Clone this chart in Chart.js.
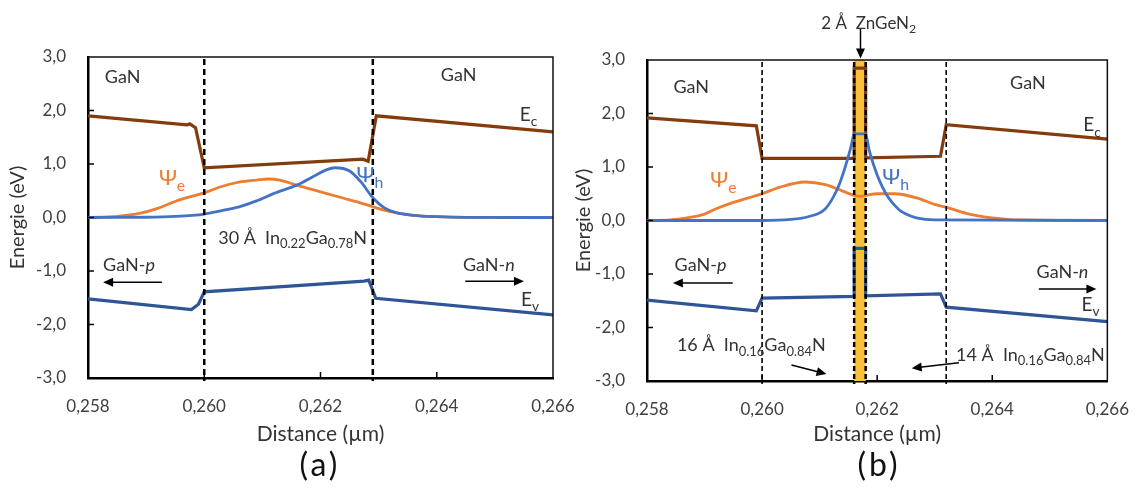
<!DOCTYPE html>
<html>
<head>
<meta charset="utf-8">
<script src="https://cdn.jsdelivr.net/npm/chart.js@4.4.1/dist/chart.umd.min.js"></script>
<style>
  body { margin: 0; background: #fff; width: 1139px; height: 488px; position: relative; overflow: hidden; font-family: Lato, "Open Sans", sans-serif; }
  #chartA { position: absolute; left: 0; top: 0; }
  #chartB { position: absolute; left: 570px; top: 0; }
  .panel { position: absolute; top: 445px; width: 100px; text-align: center; font-size: 32px; line-height: 38px; letter-spacing: 3px; color: #111; }
</style>
</head>
<body>
<canvas id="chartA" width="600" height="450"></canvas>
<canvas id="chartB" width="569" height="450"></canvas>
<div class="panel" style="left:270px">(a)</div>
<div class="panel" style="left:829px">(b)</div>
<script>
const fam = 'Lato, "Open Sans", "DejaVu Sans", sans-serif';

// axes
const xTickValues = [0.258, 0.260, 0.262, 0.264, 0.266];
const xTickLabels = ['0,258', '0,260', '0,262', '0,264', '0,266'];
const yTickValues = [-3, -2, -1, 0, 1, 2, 3];
const yTickLabels = ['-3,0', '-2,0', '-1,0', '0,0', '1,0', '2,0', '3,0'];

// (a) 30 A In0.22Ga0.78N
const ecAx = [0.258, 0.2597, 0.25975, 0.25985, 0.2600, 0.26273, 0.26282, 0.26296, 0.266];
const ecAy = [1.90, 1.73, 1.75, 1.68, 0.93, 1.09, 1.05, 1.90, 1.60];
const evAx = [0.258, 0.25978, 0.2599, 0.2600, 0.26275, 0.26283, 0.26295, 0.266];
const evAy = [-1.52, -1.72, -1.62, -1.39, -1.19, -1.17, -1.51, -1.82];
const psiEAx = [0.258, 0.2582, 0.2585, 0.2589, 0.2592, 0.2595, 0.2598, 0.2600, 0.2603, 0.2606, 0.2609, 0.2611, 0.2613, 0.2616, 0.2620, 0.2624, 0.2627, 0.2629, 0.2632, 0.2636, 0.2640, 0.2645, 0.266];
const psiEAy = [0, 0.005, 0.02, 0.08, 0.17, 0.30, 0.40, 0.46, 0.58, 0.66, 0.70, 0.72, 0.70, 0.60, 0.48, 0.36, 0.27, 0.20, 0.11, 0.04, 0.015, 0.003, 0];
const psiHAx = [0.258, 0.259, 0.2595, 0.2600, 0.2603, 0.2606, 0.2609, 0.2612, 0.2616, 0.2619, 0.2621, 0.26225, 0.2625, 0.2627, 0.2629, 0.2631, 0.2633, 0.2636, 0.2640, 0.2645, 0.266];
const psiHAy = [0, 0.005, 0.02, 0.065, 0.13, 0.20, 0.31, 0.45, 0.61, 0.78, 0.89, 0.93, 0.87, 0.66, 0.37, 0.18, 0.09, 0.04, 0.015, 0.003, 0];

// (b) 16 A / 2 A ZnGeN2 / 14 A
const ecBx = [0.258, 0.2599, 0.2600, 0.2616, 0.2616, 0.2618, 0.2618, 0.2631, 0.2632, 0.266];
const ecBy = [1.92, 1.77, 1.16, 1.16, 2.85, 2.85, 1.17, 1.20, 1.79, 1.52];
const evBx = [0.258, 0.2599, 0.2600, 0.2616, 0.2616, 0.2618, 0.2618, 0.2631, 0.2632, 0.266];
const evBy = [-1.49, -1.69, -1.45, -1.42, -0.52, -0.52, -1.41, -1.37, -1.62, -1.89];
const psiEBx = [0.258, 0.2584, 0.2587, 0.2590, 0.2592, 0.2595, 0.2600, 0.2603, 0.26075, 0.2611, 0.2614, 0.2616, 0.2617, 0.2618, 0.2620, 0.2623, 0.2627, 0.2630, 0.26325, 0.2636, 0.2640, 0.2645, 0.266];
const psiEBy = [0, 0.01, 0.05, 0.12, 0.22, 0.34, 0.50, 0.62, 0.72, 0.67, 0.55, 0.47, 0.45, 0.47, 0.50, 0.50, 0.42, 0.30, 0.23, 0.12, 0.05, 0.01, 0];
const psiHBx = [0.258, 0.2600, 0.2605, 0.2608, 0.2611, 0.2613, 0.2614, 0.26155, 0.2616, 0.2618, 0.26186, 0.2620, 0.26209, 0.2622, 0.26238, 0.2625, 0.26268, 0.2630, 0.266];
const psiHBy = [0, 0, 0.02, 0.07, 0.22, 0.57, 0.85, 1.40, 1.62, 1.62, 1.32, 0.85, 0.63, 0.42, 0.20, 0.12, 0.05, 0.01, 0];

const pts = (xs, ys) => xs.map((x, i) => ({ x: x, y: ys[i] }));

const band = (xs, ys, color) => ({ data: pts(xs, ys), borderColor: color, borderWidth: 3.2, tension: 0, order: 2 });
const wave = (xs, ys, color) => ({ data: pts(xs, ys), borderColor: color, borderWidth: 2.8, cubicInterpolationMode: 'monotone', order: 1 });

function drawRich(ctx, x, y, parts, color, size) {
  let cx = x;
  ctx.fillStyle = color;
  ctx.textBaseline = 'middle';
  ctx.textAlign = 'left';
  parts.forEach(p => {
    const t = typeof p === 'string' ? p : p[0];
    const kind = typeof p === 'string' ? '' : p[1];
    let fs = size, dy = 0, st = '';
    if (kind === 'sub') { fs = size * 0.72; dy = size * 0.36; }
    if (kind === 'it') st = 'italic ';
    ctx.font = st + fs + 'px ' + fam;
    ctx.fillText(t, cx, y + dy);
    cx += ctx.measureText(t).width;
  });
}

function arrow(ctx, x0, y0, x1, y1) {
  const a = Math.atan2(y1 - y0, x1 - x0), L = 10, W = 4.5;
  ctx.strokeStyle = '#000';
  ctx.fillStyle = '#000';
  ctx.lineWidth = 1.5;
  ctx.setLineDash([]);
  ctx.beginPath();
  ctx.moveTo(x0, y0);
  ctx.lineTo(x1 - L * 0.6 * Math.cos(a), y1 - L * 0.6 * Math.sin(a));
  ctx.stroke();
  ctx.beginPath();
  ctx.moveTo(x1, y1);
  ctx.lineTo(x1 - L * Math.cos(a) + W * Math.sin(a), y1 - L * Math.sin(a) - W * Math.cos(a));
  ctx.lineTo(x1 - L * Math.cos(a) - W * Math.sin(a), y1 - L * Math.sin(a) + W * Math.cos(a));
  ctx.closePath();
  ctx.fill();
}

// frame, inward ticks, interfaces, labels
function decor(cfg) {
  return {
    id: 'decor',
    beforeDatasetsDraw(chart) {
      if (!cfg.bar) return;
      const { ctx, chartArea: a, scales: { x } } = chart;
      const x0 = x.getPixelForValue(cfg.bar[0]), x1 = x.getPixelForValue(cfg.bar[1]);
      ctx.save();
      ctx.fillStyle = '#F9C13A';
      ctx.fillRect(x0, a.top, x1 - x0, a.bottom - a.top);
      ctx.restore();
    },
    afterDraw(chart) {
      const { ctx, chartArea: a, scales: { x, y } } = chart;
      ctx.save();
      ctx.strokeStyle = '#111';
      ctx.lineWidth = 1.5;
      ctx.beginPath();
      ctx.moveTo(a.left, a.top); ctx.lineTo(a.right, a.top); ctx.lineTo(a.right, a.bottom);
      ctx.stroke();
      ctx.strokeStyle = '#000';
      xTickValues.slice(1, -1).forEach(v => {
        const px = x.getPixelForValue(v);
        ctx.beginPath(); ctx.moveTo(px, a.bottom); ctx.lineTo(px, a.bottom - 6); ctx.stroke();
      });
      yTickValues.slice(1, -1).forEach(v => {
        const py = y.getPixelForValue(v);
        ctx.beginPath(); ctx.moveTo(a.left, py); ctx.lineTo(a.left + 6, py); ctx.stroke();
      });
      cfg.vlines.forEach(l => {
        const px = x.getPixelForValue(l.x);
        ctx.setLineDash(l.dash);
        ctx.lineWidth = l.w;
        ctx.beginPath(); ctx.moveTo(px, a.top + 2); ctx.lineTo(px, a.bottom + 3); ctx.stroke();
      });
      ctx.setLineDash([]);
      cfg.arrows.forEach(r => {
        arrow(ctx, x.getPixelForValue(r[0]), y.getPixelForValue(r[1]), x.getPixelForValue(r[2]), y.getPixelForValue(r[3]));
      });
      cfg.notes.forEach(n => {
        drawRich(ctx, x.getPixelForValue(n.x), y.getPixelForValue(n.y), n.parts, n.color, n.size);
      });
      ctx.restore();
    }
  };
}

function makeChart(id, datasets, cfg) {
  return new Chart(document.getElementById(id), {
    type: 'line',
    data: { datasets: datasets },
    options: {
      responsive: false,
      animation: false,
      layout: { padding: cfg.pad },
      elements: { point: { radius: 0 } },
      plugins: { legend: { display: false }, tooltip: { enabled: false } },
      scales: {
        x: {
          type: 'linear', min: 0.258, max: 0.266,
          afterBuildTicks: s => { s.ticks = xTickValues.map(v => ({ value: v })); },
          afterFit: s => { s.height = cfg.xh; },
          grid: { display: false },
          border: { display: true, color: '#000', width: 2.5 },
          ticks: { callback: (v, i) => xTickLabels[i], color: '#404040', font: { family: fam, size: 17 }, maxRotation: 0, padding: 10 },
          title: { display: true, text: 'Distance (\u00b5m)', color: '#333', font: { family: fam, size: 21 }, padding: { top: 0, bottom: 3 } }
        },
        y: {
          min: -3, max: 3,
          afterBuildTicks: s => { s.ticks = yTickValues.map(v => ({ value: v })); },
          afterFit: s => { s.width = cfg.yw; },
          grid: { display: false },
          border: { display: true, color: '#000', width: 2.5 },
          ticks: { callback: (v, i) => yTickLabels[i], color: '#404040', font: { family: fam, size: 17 }, padding: 14 },
          title: { display: true, text: 'Energie (eV)', color: '#333', font: { family: fam, size: 20 }, padding: { top: cfg.ytp, bottom: 0 } }
        }
      }
    },
    plugins: [decor(cfg)]
  });
}

const txt = '#333';
const orange = '#ED7D31', blue = '#4472C4', brown = '#843C0C', dblue = '#2F5597';

// first dataset is drawn on top: blue wave over orange along the zero line
makeChart('chartA', [
  wave(psiHAx, psiHAy, blue),
  wave(psiEAx, psiEAy, orange),
  band(ecAx, ecAy, brown),
  band(evAx, evAy, dblue)
], {
  pad: { top: 57, right: 47, left: 0, bottom: 0 }, yw: 88, xh: 72, ytp: 6,
  vlines: [{ x: 0.2600, w: 2.5, dash: [6, 4] }, { x: 0.2629, w: 2.5, dash: [6, 4] }],
  arrows: [[0.25927, -1.21, 0.25826, -1.21], [0.26449, -1.19, 0.26550, -1.19]],
  notes: [
    { x: 0.25829, y: 2.63, parts: ['GaN'], color: txt, size: 18 },
    { x: 0.26407, y: 2.66, parts: ['GaN'], color: txt, size: 18 },
    { x: 0.26543, y: 1.92, parts: ['E', ['c', 'sub']], color: txt, size: 19 },
    { x: 0.25922, y: 0.74, parts: ['\u03a8', ['e', 'sub']], color: orange, size: 22 },
    { x: 0.26262, y: 0.79, parts: ['\u03a8', ['h', 'sub']], color: blue, size: 22 },
    { x: 0.26024, y: -0.38, parts: ['30 \u00c5  In', ['0.22', 'sub'], 'Ga', ['0.78', 'sub'], 'N'], color: txt, size: 18 },
    { x: 0.25826, y: -0.89, parts: ['GaN-', ['p', 'it']], color: txt, size: 18 },
    { x: 0.26445, y: -0.89, parts: ['GaN-', ['n', 'it']], color: txt, size: 18 },
    { x: 0.26545, y: -1.54, parts: ['E', ['v', 'sub']], color: txt, size: 19 }
  ]
});

makeChart('chartB', [
  wave(psiHBx, psiHBy, blue),
  wave(psiEBx, psiEBy, orange),
  band(ecBx, ecBy, brown),
  band(evBx, evBy, dblue)
], {
  pad: { top: 60, right: 30, left: 0, bottom: 0 }, yw: 77, xh: 69, ytp: 2,
  bar: [0.2616, 0.2618],
  vlines: [
    { x: 0.2600, w: 1.6, dash: [5, 3] }, { x: 0.2632, w: 1.6, dash: [5, 3] },
    { x: 0.2616, w: 2.5, dash: [5, 3] }, { x: 0.2618, w: 2.5, dash: [5, 3] }
  ],
  arrows: [
    [0.26171, 3.60, 0.26171, 3.03],
    [0.25949, -1.17, 0.25845, -1.17],
    [0.26481, -1.28, 0.26581, -1.28],
    [0.26051, -2.70, 0.26112, -2.87],
    [0.26342, -2.66, 0.26260, -2.76]
  ],
  notes: [
    { x: 0.26103, y: 3.69, parts: ['2 \u00c5  ZnGeN', ['2', 'sub']], color: txt, size: 17 },
    { x: 0.25846, y: 2.50, parts: ['GaN'], color: txt, size: 18 },
    { x: 0.26431, y: 2.57, parts: ['GaN'], color: txt, size: 18 },
    { x: 0.26558, y: 1.78, parts: ['E', ['c', 'sub']], color: txt, size: 19 },
    { x: 0.25910, y: 0.76, parts: ['\u03a8', ['e', 'sub']], color: orange, size: 22 },
    { x: 0.26209, y: 0.81, parts: ['\u03a8', ['h', 'sub']], color: blue, size: 22 },
    { x: 0.25848, y: -0.83, parts: ['GaN-', ['p', 'it']], color: txt, size: 18 },
    { x: 0.26477, y: -0.96, parts: ['GaN-', ['n', 'it']], color: txt, size: 18 },
    { x: 0.26555, y: -1.58, parts: ['E', ['v', 'sub']], color: txt, size: 19 },
    { x: 0.25852, y: -2.33, parts: ['16 \u00c5  In', ['0.16', 'sub'], 'Ga', ['0.84', 'sub'], 'N'], color: txt, size: 18 },
    { x: 0.26337, y: -2.51, parts: ['14 \u00c5  In', ['0.16', 'sub'], 'Ga', ['0.84', 'sub'], 'N'], color: txt, size: 18 }
  ]
});
</script>
</body>
</html>
